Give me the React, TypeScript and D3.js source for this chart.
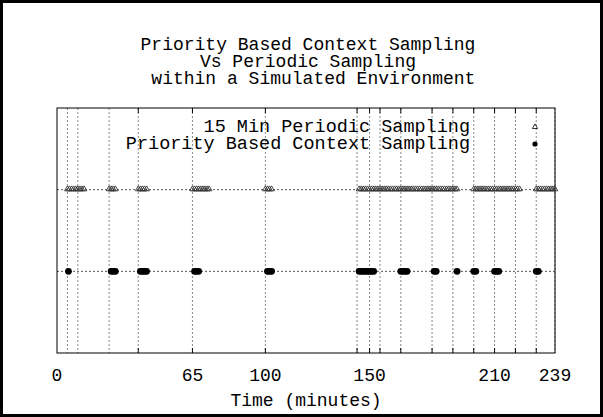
import React from 'react';
import * as d3 from 'd3';

const W = 603;
const H = 417;

const titleLines = [
  'Priority Based Context Sampling',
  'Vs Periodic Sampling',
  ' within a Simulated Environment',
];
const xAxisLabel = 'Time (minutes)';
const legendLabels = ['15 Min Periodic Sampling', 'Priority Based Context Sampling'];

const gridTimes = [5, 10, 25, 39, 65, 100, 144, 150, 155, 165, 180, 190, 200, 210, 220, 230, 239];
const tickMarkTimes = [39, 65, 100, 144, 150, 155, 165, 180, 190, 200, 210, 220, 230];
const tickLabels = [0, 65, 100, 150, 210, 239];

// 15 Min Periodic Sampling (row level 2)
const periodicTimes = [
  5, 6, 7, 8, 9, 10, 11, 12, 13,
  25, 26, 27, 28,
  39, 40, 41, 42, 43,
  65, 66, 67, 68, 69, 70, 71, 72, 73,
  100, 101, 102, 103,
  145, 146, 147, 148, 149, 150, 151, 152, 153, 154, 155, 156, 157, 158, 159, 160,
  161, 162, 163, 164, 165, 166, 167, 168, 169, 170, 171, 172, 173, 174, 175, 176,
  177, 178, 179, 180, 181, 182, 183, 184, 185, 186, 187, 188, 189, 190, 191, 192,
  200, 201, 202, 203, 204, 205, 206, 207, 208, 209, 210, 211, 212, 213, 214, 215,
  216, 217, 218, 219, 220, 221, 222,
  230, 231, 232, 233, 234, 235, 236, 237, 238, 239,
];

// Priority Based Context Sampling (row level 1)
const priorityTimes = [
  5.5,
  26, 27, 28,
  40, 41, 42, 43,
  66, 67, 68,
  101, 102, 103,
  145, 146, 147, 148, 149, 150, 151, 152,
  165, 166, 167, 168,
  181, 182,
  192,
  200, 201,
  210, 211, 212,
  230, 231,
];

const periodicLevel = 2;
const priorityLevel = 1;
const yLevels = [1, 2];

const FONT = "'Liberation Mono', 'Courier New', monospace";
const FS = 18;
const FS_LEGEND = 18.5;

export default function App() {
  const left = 57, right = 555, top = 108, bottom = 353;
  const x = d3.scaleLinear().domain([0, 239]).range([left, right]);
  const y = d3.scaleLinear().domain([0, 3]).range([bottom, top]);
  const tri = d3.symbol().type(d3.symbolTriangle).size(14)();
  const triLegend = d3.symbol().type(d3.symbolTriangle).size(12)();

  return (
    <svg
      width={W}
      height={H}
      style={{ position: 'absolute', left: 0, top: 0, background: '#fff' }}
      xmlns="http://www.w3.org/2000/svg"
    >
      <rect x={0} y={0} width={W} height={H} fill="#fff" />
      <rect x={1.5} y={1.5} width={W - 3} height={H - 3} fill="none" stroke="#000" strokeWidth={3} />

      {/* title */}
      {titleLines.map((t, i) => (
        <text
          key={i}
          x={308}
          y={50 + i * 17}
          textAnchor="middle"
          fontFamily={FONT}
          fontSize={FS}
          fill="#000"
          style={{ whiteSpace: 'pre' }}
        >
          {t}
        </text>
      ))}

      {/* grid */}
      {gridTimes.map((t) => (
        <line
          key={'g' + t}
          x1={x(t)}
          x2={x(t)}
          y1={top}
          y2={bottom}
          stroke="#888"
          strokeWidth={1}
          strokeDasharray="2,2"
        />
      ))}
      {yLevels.map((v) => (
        <line
          key={'h' + v}
          x1={left}
          x2={right}
          y1={y(v)}
          y2={y(v)}
          stroke="#555"
          strokeWidth={1}
          strokeDasharray="2,2"
        />
      ))}

      {/* tick marks */}
      {tickMarkTimes.map((t) => (
        <g key={'t' + t}>
          <line x1={x(t)} x2={x(t)} y1={top} y2={top + 5} stroke="#000" />
          <line x1={x(t)} x2={x(t)} y1={bottom} y2={bottom - 5} stroke="#000" />
        </g>
      ))}

      {/* frame */}
      <rect x={left} y={top} width={right - left} height={bottom - top} fill="none" stroke="#000" strokeWidth={1} />

      {/* tick labels */}
      {tickLabels.map((t) => (
        <text
          key={'l' + t}
          x={x(t)}
          y={381}
          textAnchor="middle"
          fontFamily={FONT}
          fontSize={FS}
          fill="#000"
        >
          {t}
        </text>
      ))}
      <text x={306} y={406} textAnchor="middle" fontFamily={FONT} fontSize={FS} fill="#000">
        {xAxisLabel}
      </text>

      {/* legend */}
      <text x={470} y={132} textAnchor="end" fontFamily={FONT} fontSize={FS_LEGEND} fill="#000">
        {legendLabels[0]}
      </text>
      <text x={470} y={149} textAnchor="end" fontFamily={FONT} fontSize={FS_LEGEND} fill="#000">
        {legendLabels[1]}
      </text>
      <path d={triLegend} transform={`translate(535,127)`} fill="none" stroke="#000" strokeWidth={0.8} />
      <circle cx={535} cy={144} r={2.6} fill="#000" />

      {/* periodic samples */}
      {periodicTimes.map((t, i) => (
        <path
          key={'p' + i}
          d={tri}
          transform={`translate(${x(t)},${y(periodicLevel) - 0.5})`}
          fill="none"
          stroke="#333"
          strokeWidth={0.9}
        />
      ))}

      {/* priority samples */}
      {priorityTimes.map((t, i) => (
        <circle key={'c' + i} cx={x(t)} cy={y(priorityLevel)} r={3.4} fill="#000" />
      ))}
    </svg>
  );
}
